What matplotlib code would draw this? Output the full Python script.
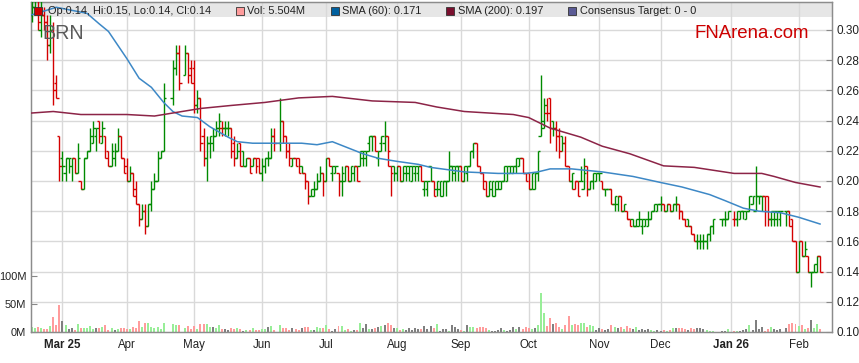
import matplotlib
matplotlib.use("Agg")
import matplotlib.pyplot as plt
import matplotlib.transforms as mtrans
from matplotlib.collections import LineCollection
from matplotlib.patches import Rectangle
import pandas as pd

plt.rcParams['font.family'] = ['Liberation Sans', 'DejaVu Sans']

# ---------------- data ----------------
dates = pd.bdate_range("2025-02-17", "2026-02-11")   # weekday axis (holidays left empty)
N = None
opens = [
 .310,.315,.320,.300,.310,.305,.290,.300,.265,.230,
 .215,.205,.215,.210,.215,.205,.200,.195,.215,.220,.225,.230,.240,.225,.230,.220,.210,.215,.220,.230,.215,
 .210,.200,.205,.195,.185,.175,.180,.170,.185,.195,.200,.215,.220,N,N,.255,.275,.285,N,.270,.285,.275,
 .275,.250,.255,.230,.215,.225,.225,.230,.235,.235,.235,.235,.235,.225,.215,.225,.220,.210,.215,.210,.215,.215,
 .205,.210,.215,.215,.230,N,.225,.240,.230,.220,.210,.215,.215,.210,.205,.200,.190,.190,.195,.200,.205,
 .200,.215,.205,.205,.205,.200,.200,.210,.200,.205,.210,.210,.215,.215,.225,.230,.230,.215,.225,.225,.230,.210,.210,
 .205,.210,.200,.205,.205,.200,.205,.205,.210,.195,.195,.210,.200,.195,.195,.190,.200,.200,.210,.205,.210,
 .210,.200,.205,.210,.220,.225,.210,.205,.200,.190,.195,.190,.195,.195,.200,.200,.205,.205,.210,.210,.215,.205,
 .205,.195,.195,.205,.230,.240,.245,.255,.240,.235,.230,.230,.225,.210,.200,.195,.200,.200,.195,.210,.195,.200,.200,
 .205,.200,.195,.195,.195,.185,.185,.190,.180,.180,.175,.175,.170,.170,.170,.170,.170,.175,.180,.180,
 .185,.185,.180,.185,.180,.185,.185,.180,.175,.175,.170,.165,.160,.160,.160,.160,.165,.170,N,N,.175,.175,.175,
 N,.175,.175,.175,.180,.175,.180,.185,.180,.190,.190,.190,.190,.175,.175,.175,.175,N,.180,.180,.175,.160,
 .140,.160,.150,.150,.140,.140,.140,.150,
]
highs = [
 .320,.325,.325,.320,.315,.310,.310,.305,.270,.230,
 .220,.215,.215,.215,.215,.225,.200,.215,.220,.235,.240,.235,.240,.240,.230,.220,.225,.225,.235,.230,.215,
 .215,.210,.205,.200,.185,.185,.185,.185,.200,.205,.220,.220,.265,N,N,.280,.290,.290,N,.290,.285,.280,
 .280,.260,.255,.235,.230,.230,.235,.240,.245,.240,.240,.240,.235,.230,.225,.225,.220,.215,.215,.215,.215,.215,
 .215,.215,.220,.235,.235,N,.255,.240,.230,.225,.215,.215,.215,.210,.205,.200,.195,.200,.205,.210,.205,
 .215,.215,.210,.210,.205,.210,.210,.210,.210,.210,.210,.220,.220,.220,.230,.230,.230,.220,.230,.240,.230,.210,.210,
 .210,.210,.210,.210,.210,.210,.210,.210,.210,.200,.200,.210,.200,.200,.200,.200,.200,.220,.210,.210,.210,
 .210,.210,.210,.220,.225,.225,.210,.205,.200,.200,.200,.200,.200,.200,.210,.210,.210,.210,.215,.215,.215,.205,
 .205,.205,.205,.220,.270,.255,.255,.255,.240,.240,.235,.230,.230,.210,.205,.200,.200,.210,.215,.210,.200,.205,.205,
 .205,.200,.195,.195,.195,.190,.190,.190,.185,.180,.175,.175,.175,.180,.175,.175,.180,.180,.185,.185,
 .190,.185,.185,.185,.185,.190,.185,.180,.175,.175,.170,.165,.165,.165,.165,.165,.170,.175,N,N,.175,.180,.180,
 N,.180,.180,.180,.180,.180,.190,.190,.210,.190,.190,.190,.190,.180,.180,.180,.180,N,.180,.180,.175,.160,
 .160,.160,.160,.150,.140,.145,.150,.150,
]
lows = [
 .305,.310,.300,.295,.300,.280,.285,.250,.255,.200,
 .200,.200,.205,.200,.205,.205,.195,.195,.215,.220,.225,.220,.225,.225,.215,.210,.210,.210,.220,.215,.205,
 .200,.200,.190,.185,.170,.175,.165,.170,.180,.195,.200,.215,.220,N,N,.250,.270,.260,N,.270,.265,.265,
 .245,.245,.220,.210,.200,.215,.220,.230,.230,.230,.230,.230,.215,.210,.215,.210,.210,.210,.205,.210,.205,.205,
 .200,.205,.210,.215,.220,N,.220,.225,.215,.210,.210,.210,.205,.205,.195,.185,.190,.190,.195,.200,.190,
 .200,.210,.200,.205,.190,.190,.200,.200,.200,.200,.200,.210,.210,.210,.220,.220,.220,.210,.220,.220,.210,.190,.200,
 .200,.200,.200,.200,.200,.200,.200,.200,.200,.190,.190,.200,.190,.190,.190,.190,.190,.200,.200,.200,.200,
 .200,.200,.200,.210,.215,.210,.205,.195,.190,.190,.190,.190,.195,.195,.200,.200,.205,.205,.205,.210,.205,.200,
 .195,.195,.195,.200,.230,.235,.240,.225,.230,.220,.215,.220,.210,.200,.195,.195,.190,.200,.195,.190,.195,.195,.200,
 .200,.195,.190,.195,.185,.180,.180,.180,.180,.175,.170,.170,.170,.170,.165,.170,.170,.175,.180,.180,
 .180,.180,.180,.180,.180,.180,.175,.175,.170,.170,.165,.160,.155,.155,.155,.155,.160,.165,N,N,.170,.170,.175,
 N,.170,.170,.175,.175,.175,.180,.185,.180,.185,.180,.170,.170,.170,.170,.170,.170,N,.170,.170,.160,.140,
 .140,.150,.150,.140,.130,.140,.140,.140,
]
closes = [
 .315,.320,.305,.310,.305,.290,.300,.260,.255,.210,
 .210,.215,.215,.215,.205,.215,.195,.215,.220,.230,.235,.235,.230,.235,.215,.210,.220,.220,.230,.215,.205,
 .200,.205,.190,.185,.175,.180,.170,.185,.195,.200,.215,.220,.255,N,N,.275,.285,.265,N,.285,.270,.265,
 .250,.255,.225,.215,.225,.230,.230,.235,.240,.235,.235,.235,.220,.215,.220,.210,.210,.215,.205,.215,.210,.205,
 .210,.215,.215,.230,.225,N,.240,.230,.220,.215,.215,.210,.205,.205,.200,.190,.195,.195,.200,.205,.200,
 .215,.210,.210,.210,.200,.205,.210,.200,.210,.210,.200,.220,.220,.220,.230,.230,.220,.220,.230,.230,.220,.205,.205,
 .210,.200,.210,.210,.210,.210,.210,.210,.200,.200,.200,.200,.190,.200,.200,.200,.200,.210,.210,.210,.210,
 .200,.210,.210,.220,.225,.210,.205,.195,.190,.200,.200,.200,.200,.200,.210,.210,.210,.210,.215,.215,.205,.200,
 .195,.205,.205,.220,.235,.250,.245,.235,.235,.230,.220,.225,.210,.200,.205,.200,.190,.200,.205,.195,.200,.205,.205,
 .205,.195,.195,.195,.185,.190,.190,.180,.185,.175,.170,.170,.175,.175,.175,.175,.175,.180,.185,.185,
 .185,.180,.185,.180,.185,.185,.180,.175,.170,.170,.165,.160,.160,.160,.160,.165,.170,.175,N,N,.175,.175,.180,
 N,.175,.180,.180,.180,.180,.190,.190,.190,.190,.190,.180,.175,.180,.180,.180,.180,N,.180,.170,.160,.140,
 .160,.150,.155,.140,.140,.145,.150,.140,
]
volumes_m = [
 9,7,9,7,5,5,11,27,12.5,48,
 20,12.5,5,7,3.5,14,7,7,7,11,5,7,7,9,12.5,3.5,7,3.5,5,7,7,
 5,5,9,7,20,9,16,16,9,7,9,5,16,N,N,14,12.5,12.5,N,7,11,5,
 11,5,14,14,14,9,9,7,12.5,5,5,3.5,7,5,7,5,2,3.5,3.5,7,3.5,3.5,
 5,5,9,11,3.5,N,12.5,7,7,3.5,7,5,3.5,7,9,9,3.5,3.5,9,7,7,
 12.5,5,2,5,11,11,3.5,5,2,3.5,3.5,16,7,14,5,5,7,9,11,12.5,16,12.5,7,
 7,3.5,5,3.5,7,3.5,7,5,5,11,5,11,7,14,2,5,5,2,12.5,9,5,
 3.5,2,12.5,9,9,7,9,9,7,3.5,2,2,3.5,7,3.5,2,3.5,9,5,9,5,9,
 7,5,7,12.5,70,34,11,25,14,16,9,5,12.5,28,12.5,14,12.5,16,16,9,12.5,11,3.5,
 7,5,3.5,5,12.5,9,7,9,5,11,7,5,9,3.5,5,3.5,5,3.5,2,3.5,
 2,3.5,2,3.5,7,7,7,7,5,3.5,7,5,7,7,5,3.5,2,2,N,N,2,2,5,
 N,2,2,2,3.5,5,12.5,3.5,22,5,9,2,5,9,5,3.5,5,N,7,14,16,14,
 11,12.5,5,7,22,7,14,5,
]
sma60_idx = [0, 8, 18, 22, 25, 31, 35, 39, 43, 46, 49, 54, 58, 64, 67, 72, 78, 88, 93, 98, 103,
             108, 113, 119, 126, 130, 141, 152, 161, 165, 169, 176, 186, 196, 205, 212, 221, 226,
             232, 237, 244, 250, 257]
sma60_val = [0.310, 0.315, 0.311, 0.304, 0.299, 0.281, 0.268, 0.262, 0.252, 0.246, 0.243, 0.242,
             0.236, 0.229, 0.226, 0.225, 0.225, 0.225, 0.224, 0.226, 0.222, 0.218, 0.215, 0.213,
             0.211, 0.209, 0.206, 0.205, 0.205, 0.206, 0.208, 0.208, 0.206, 0.203, 0.199, 0.196,
             0.191, 0.187, 0.182, 0.180, 0.179, 0.176, 0.1715]
sma200_idx = [0, 7, 16, 31, 40, 46, 55, 65, 76, 87, 98, 111, 125, 132, 141, 157, 162, 169, 179,
              186, 195, 206, 216, 229, 238, 242, 249, 257]
sma200_val = [0.245, 0.246, 0.244, 0.244, 0.243, 0.245, 0.248, 0.250, 0.252, 0.255, 0.256, 0.253,
              0.252, 0.249, 0.246, 0.244, 0.242, 0.235, 0.229, 0.223, 0.218, 0.210, 0.209, 0.205,
              0.205, 0.203, 0.199, 0.196]
month_labels = ["Mar 25", "Apr", "May", "Jun", "Jul", "Aug", "Sep", "Oct", "Nov", "Dec", "Jan 26", "Feb"]
price_ticks = [0.10, 0.12, 0.14, 0.16, 0.18, 0.20, 0.22, 0.24, 0.26, 0.28, 0.30]
vol_ticks = [0, 50, 100]

# ---------------- figure ----------------
W, H = 859, 363
fig = plt.figure(figsize=(W / 100, H / 100), dpi=100)
L, R, T, B = 30.5, 832, 2, 332
ax = fig.add_axes([L / W, (H - B) / H, (R - L) / W, (B - T) / H])
axp = ax.twinx()

n = len(dates)
xs = list(range(n))
ax.set_xlim(-0.42, 260.9)
ax.set_ylim(0, 589)
axp.set_ylim(0.10, 0.3185)

# month gridlines / ticks
months = pd.Series(dates.to_period("M"))
month_pos = [i for i in range(1, n) if months[i] != months[i - 1]]
ax.set_xticks(month_pos)
ax.set_xticklabels(month_labels)
for lab in ax.get_xticklabels():
    if lab.get_text() in ("Mar 25", "Jan 26"):
        lab.set_fontweight("bold")
ax.tick_params(axis="x", length=0, labelsize=8.3, pad=5, colors="#222222")

gridc = "#d9d9d9"
# header band
ax.add_patch(Rectangle((0, (B - 17) / (B - T)), 1, 15 / (B - T), transform=ax.transAxes,
                       facecolor="#e6e6e6", edgecolor="none", zorder=0))
for p in month_pos:
    ax.axvline(p, color=gridc, lw=1.0, zorder=0.5)
blend = mtrans.blended_transform_factory(ax.transAxes, axp.transData)
for t in price_ticks[1:]:
    ax.plot([0, 1], [t, t], transform=blend, color=gridc, lw=1.0, zorder=0.5)

# volume
prev = None
vcols, pcols = [], []
for c in closes:
    if c is None:
        vcols.append("none"); pcols.append("none"); continue
    if prev is None or c > prev + 1e-9:
        vcols.append("#98ee98"); pcols.append("#008a00")
    elif c < prev - 1e-9:
        vcols.append("#ff9c9c"); pcols.append("#d40000")
    else:
        vcols.append("#808080"); pcols.append("#008a00")
    prev = c
vx = [i for i, v in enumerate(volumes_m) if v is not None]
vv = [volumes_m[i] for i in vx]
ax.bar(vx, vv, width=0.65, color=[vcols[i] for i in vx], linewidth=0, zorder=2)

ax.set_yticks(vol_ticks)
ax.set_yticklabels(["0M", "50M", "100M"])
ax.tick_params(axis="y", direction="in", length=4, color="#888888", labelsize=7.9, pad=3,
               labelcolor="#222222")

# OHLC bars
segs, cols = [], []
for i in xs:
    if closes[i] is None:
        continue
    segs.append([(i, lows[i]), (i, highs[i])])
    segs.append([(i - 0.85, opens[i]), (i, opens[i])])
    segs.append([(i, closes[i]), (i + 0.85, closes[i])])
    cols += [pcols[i]] * 3
axp.add_collection(LineCollection(segs, colors=cols, linewidths=1.0, zorder=3))

axp.plot(sma60_idx, sma60_val, color="#3d88c6", lw=1.1, zorder=4)
axp.plot(sma200_idx, sma200_val, color="#8c2447", lw=1.1, zorder=4)

axp.set_yticks(price_ticks)
axp.set_yticklabels([f"{t:.2f}" for t in price_ticks])
axp.tick_params(axis="y", direction="in", length=4, color="#888888", labelsize=8.5, pad=3,
                labelcolor="#222222")

for a in (ax, axp):
    for s in a.spines.values():
        s.set_color("#8c8c8c")
        s.set_linewidth(0.9)

# header legend
def fx(x):
    return x / W
def fy(y):
    return 1 - y / H

items = [(34, "#cc0000", 48, "Op:0.14, Hi:0.15, Lo:0.14, Cl:0.14"),
         (236, "#ff9c9c", 247, "Vol: 5.504M"),
         (331, "#00609f", 342, "SMA (60): 0.171"),
         (446, "#7a0f2e", 458, "SMA (200): 0.197"),
         (568, "#5b5b95", 580, "Consensus Target: 0 - 0")]
for sx, col, tx, txt in items:
    fig.add_artist(Rectangle((fx(sx), fy(14.5)), 8 / W, 8 / H, transform=fig.transFigure,
                             facecolor=col, edgecolor="#333333", lw=0.6, zorder=6))
    fig.text(fx(tx), fy(14.3), txt, fontsize=7.9, color="#222222", va="baseline", ha="left", zorder=6)

fig.text(fx(42), fy(39), "BRN", fontsize=14.2, color="#5a5a5a", va="baseline", ha="left")
fig.text(fx(694), fy(38), "FNArena.com", fontsize=13.4, color="#cc0000", va="baseline", ha="left")

fig.savefig("out.png", dpi=100)
